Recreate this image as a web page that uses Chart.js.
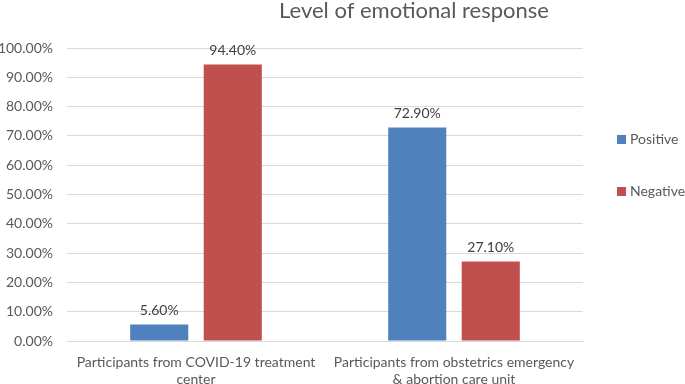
<!DOCTYPE html>
<html><head><meta charset="utf-8">
<script src="https://cdn.jsdelivr.net/npm/chart.js@4/dist/chart.umd.min.js"></script>
<style>html,body{margin:0;padding:0;background:#fff}#wrap{width:685px;height:384px;position:relative}</style>
</head><body><div id="wrap"><canvas id="c" width="685" height="384"></canvas></div>
<script>
const categories = [["Participants from COVID-19 treatment", "center"], ["Participants from obstetrics emergency", "& abortion care unit"]];
const seriesNames = ["Positive", "Negative"];
const positiveValues = [5.6, 72.9];
const negativeValues = [94.4, 27.1];
const titleText = "Level of emotional response";
const colors = ["#4F81BD", "#C0504D"];
const FONT = "Lato, 'Open Sans', sans-serif";

const overlay = {
  id: 'overlay',
  afterDatasetsDraw(chart) {
    const ctx = chart.ctx;
    ctx.save();
    ctx.fillStyle = '#404040';
    ctx.font = '14px ' + FONT;
    ctx.textAlign = 'center';
    ctx.textBaseline = 'middle';
    chart.data.datasets.forEach((ds, i) => {
      chart.getDatasetMeta(i).data.forEach((bar, j) => {
        ctx.fillText(ds.data[j].toFixed(2) + '%', bar.x, bar.y - 14);
      });
    });
    // title
    ctx.fillStyle = '#595959';
    ctx.font = '22px ' + FONT;
    ctx.fillText(titleText, 414, 11);
    // legend
    ctx.font = '14px ' + FONT;
    ctx.textAlign = 'left';
    const ys = [139, 191];
    seriesNames.forEach((n, i) => {
      ctx.fillStyle = colors[i];
      ctx.fillRect(617, ys[i] - 4, 9, 9);
      ctx.fillStyle = '#595959';
      ctx.fillText(n, 630, ys[i]);
    });
    ctx.restore();
  }
};

new Chart(document.getElementById('c'), {
  type: 'bar',
  data: {
    labels: categories,
    datasets: [
      { label: seriesNames[0], data: positiveValues, backgroundColor: colors[0] },
      { label: seriesNames[1], data: negativeValues, backgroundColor: colors[1] }
    ]
  },
  options: {
    responsive: false,
    animation: false,
    layout: { padding: { top: 48, right: 102, left: 0, bottom: 0 } },
    plugins: { legend: { display: false }, title: { display: false }, tooltip: { enabled: false } },
    datasets: { bar: { categoryPercentage: 0.57, barPercentage: 0.79 } },
    scales: {
      x: {
        grid: { display: false, drawTicks: false },
        border: { display: true, color: '#d9d9d9', width: 1 },
        ticks: { color: '#595959', font: { family: FONT, size: 14 }, padding: 13, maxRotation: 0, autoSkip: false },
        afterFit(s) { s.height = 43; }
      },
      y: {
        min: 0, max: 100,
        grid: { color: '#d9d9d9', drawTicks: false },
        border: { display: false },
        ticks: { stepSize: 10, color: '#595959', font: { family: FONT, size: 14 }, padding: 14,
          callback: v => v.toFixed(2) + '%' },
        afterFit(s) { s.width = 67; }
      }
    }
  },
  plugins: [overlay]
});
</script></body></html>
